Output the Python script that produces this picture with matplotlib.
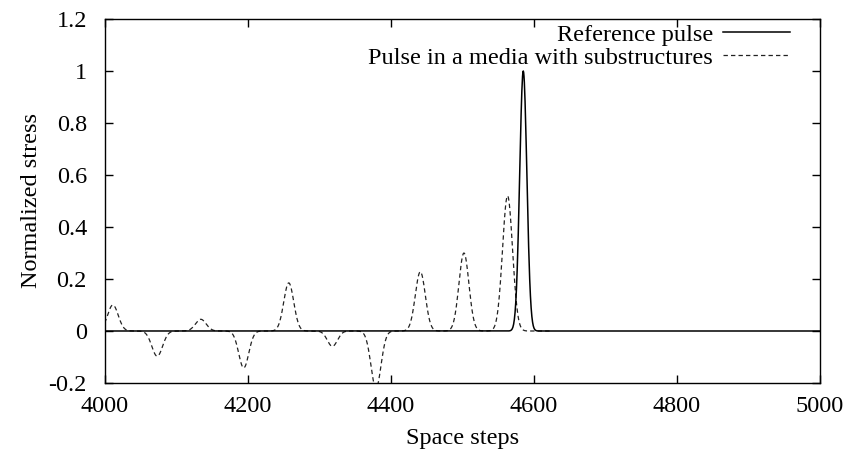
import numpy as np
import matplotlib
matplotlib.use('Agg')
import matplotlib.pyplot as plt

# pulse: centre (space step), peak value, width (steps)
ref_center = 4585
ref_amp = 1.0
ref_width = 5.0

sub_centers = [4011, 4073, 4134, 4194, 4257, 4318, 4379, 4441, 4502, 4563]
sub_amps = [0.10, -0.097, 0.045, -0.142, 0.185, -0.059, -0.22, 0.228, 0.30, 0.52]
sub_widths = [7.5, 7.5, 7.5, 7.0, 7.0, 7.0, 7.0, 7.0, 7.0, 7.0]

x_ticks = [4000, 4200, 4400, 4600, 4800, 5000]
y_ticks = [-0.2, 0, 0.2, 0.4, 0.6, 0.8, 1, 1.2]
y_tick_labels = ['-0.2', '0', '0.2', '0.4', '0.6', '0.8', '1', '1.2']

x_ref = np.arange(4000, 5000.5, 0.5)
y_ref = ref_amp * np.exp(-0.5 * ((x_ref - ref_center) / ref_width) ** 2)

x_sub = np.arange(3990, 4625.5, 0.5)
y_sub = np.zeros_like(x_sub)
for c, a, w in zip(sub_centers, sub_amps, sub_widths):
    y_sub += a * np.exp(-0.5 * ((x_sub - c) / w) ** 2)

plt.rcParams['font.family'] = ['Liberation Serif', 'DejaVu Serif']
fs = 17.5

fig = plt.figure(figsize=(8.46, 4.57), dpi=100)
ax = fig.add_axes([105 / 846, 1 - 383 / 457, 715 / 846, 364 / 457])

ax.plot(x_ref, y_ref, color='black', lw=1.1, label='Reference pulse', zorder=3)
ax.plot(x_sub, y_sub, color='#222222', lw=0.9, ls=(0, (3.5, 2.5)),
        label='Pulse in a media with substructures', zorder=2)

ax.set_xlim(4000, 5000)
ax.set_ylim(-0.2, 1.2)
ax.set_xticks(x_ticks)
ax.set_yticks(y_ticks)
ax.set_yticklabels(y_tick_labels)
ax.tick_params(direction='in', top=True, right=True, length=6, width=1.0,
               labelsize=fs)
ax.tick_params(axis='x', pad=9)
ax.tick_params(axis='y', pad=13)
for s in ax.spines.values():
    s.set_linewidth(1.0)

ax.set_xlabel('Space steps', fontsize=fs, labelpad=8)
ax.set_ylabel('Normalized stress', fontsize=fs, labelpad=5)

ax.legend(loc='upper right', frameon=False, markerfirst=False,
          handlelength=2.75, handletextpad=0.42, labelspacing=0.05,
          borderaxespad=0.0, bbox_to_anchor=(0.972, 1.014), fontsize=fs)

fig.savefig('out.png', dpi=100)
